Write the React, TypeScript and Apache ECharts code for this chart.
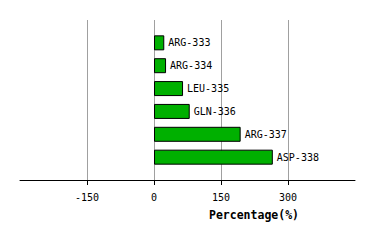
import React, { useEffect, useRef } from "react";
import * as echarts from "echarts";

const categories = ["ARG-333", "ARG-334", "LEU-335", "GLN-336", "ARG-337", "ASP-338"];
const values = [23, 27, 65, 80, 194, 266];
const tickValues = [-150, 0, 150, 300];
const axisName = "Percentage(%)";

export default function App() {
  const ref = useRef<HTMLDivElement>(null);
  useEffect(() => {
    const chart = echarts.init(ref.current!, null, { renderer: "svg" });
    const font = "'DejaVu Sans Mono', monospace";
    chart.setOption({
      animation: false,
      backgroundColor: "#ffffff",
      grid: [
        { left: 20, right: 19, top: 20, height: 160 },
        { left: 20, right: 19, top: 31.4, height: 137.2 },
      ],
      xAxis: [
        {
          gridIndex: 0,
          type: "value",
          min: -300,
          max: 450,
          interval: 150,
          axisLine: { show: true, onZero: false, lineStyle: { color: "#000", width: 1 } },
          axisTick: { show: true, length: 5, customValues: tickValues, lineStyle: { color: "#000" } },
          axisLabel: {
            customValues: tickValues,
            margin: 12,
            fontFamily: font,
            fontSize: 10,
            color: "#000",
          },
          splitLine: {
            show: true,
            lineStyle: { color: "#a0a0a0", width: 1 },
          },
        },
        {
          gridIndex: 1,
          type: "value",
          min: -300,
          max: 450,
          interval: 150,
          show: false,
          splitLine: { show: false },
        },
      ],
      yAxis: [
        { gridIndex: 0, type: "value", min: 0, max: 1, show: false, splitLine: { show: false } },
        {
          gridIndex: 1,
          type: "category",
          data: categories,
          inverse: true,
          show: false,
        },
      ],
      graphic: [
        {
          type: "text",
          x: 254,
          y: 215,
          style: {
            text: axisName,
            fontFamily: font,
            fontWeight: "bold",
            fontSize: 11.5,
            fill: "#000",
            align: "center",
            verticalAlign: "middle",
          },
        },
      ],
      series: [
        {
          type: "bar",
          xAxisIndex: 1,
          yAxisIndex: 1,
          data: values,
          barWidth: 15,
          itemStyle: { color: "#00b000", borderColor: "#000", borderWidth: 1 },
          label: {
            show: true,
            position: "right",
            distance: 4,
            formatter: (p: any) => categories[p.dataIndex],
            fontFamily: font,
            fontSize: 10,
            color: "#000",
          },
        },
      ],
    });
    return () => chart.dispose();
  }, []);
  return <div ref={ref} style={{ width: 374, height: 240, position: "absolute", left: 0, top: 0 }} />;
}
